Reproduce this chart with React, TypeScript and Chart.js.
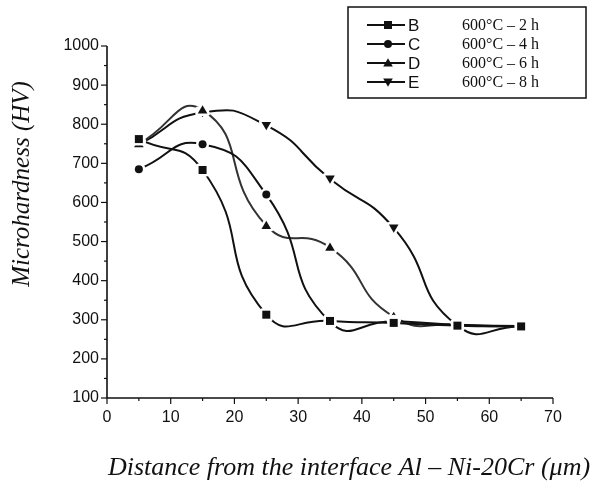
import React, { useEffect, useRef } from "react";
import { Chart, registerables } from "chart.js";

Chart.register(...registerables);

const distances = [5, 15, 25, 35, 45, 55, 65];
const seriesB = [762, 683, 313, 297, 292, 285, 283];
const seriesC = [685, 749, 620, 295, 296, 287, 284];
const seriesD = [750, 836, 541, 485, 308, 287, 283];
const seriesE = [748, 830, 797, 660, 535, 285, 283];
const seriesNames = ["B", "C", "D", "E"];
const seriesLabels = ["600°C – 2 h", "600°C – 4 h", "600°C – 6 h", "600°C – 8 h"];
const xTicks = [0, 10, 20, 30, 40, 50, 60, 70];
const yTicks = [100, 200, 300, 400, 500, 600, 700, 800, 900, 1000];

const markerStyles = ["rect", "circle", "triangle", "triangleDown"];

function markerPath(ctx: CanvasRenderingContext2D, style: string, x: number, y: number, r: number) {
  ctx.beginPath();
  if (style === "rect") {
    ctx.rect(x - r, y - r, 2 * r, 2 * r);
  } else if (style === "circle") {
    ctx.arc(x, y, r, 0, Math.PI * 2);
  } else {
    const s = style === "triangleDown" ? -1 : 1;
    ctx.moveTo(x, y - s * r * 1.2);
    ctx.lineTo(x + r * 1.2, y + s * r * 0.85);
    ctx.lineTo(x - r * 1.2, y + s * r * 0.85);
    ctx.closePath();
  }
}

function drawMarker(ctx: CanvasRenderingContext2D, style: string, x: number, y: number, r: number, ring: number) {
  ctx.save();
  if (ring > 0) {
    markerPath(ctx, style, x, y, r);
    ctx.strokeStyle = "#ffffff";
    ctx.lineWidth = ring * 2;
    ctx.lineJoin = "round";
    ctx.stroke();
  }
  markerPath(ctx, style, x, y, r);
  ctx.fillStyle = "#111";
  ctx.fill();
  ctx.restore();
}

const markerPlugin = {
  id: "markers",
  afterDatasetsDraw(chart: any) {
    const ctx: CanvasRenderingContext2D = chart.ctx;
    for (let i = chart.data.datasets.length - 1; i >= 0; i--) {
      const meta = chart.getDatasetMeta(i);
      meta.data.forEach((pt: any) => {
        drawMarker(ctx, markerStyles[i], pt.x, pt.y, 4, 2.5);
      });
    }
  },
};

const decorPlugin = {
  id: "decor",
  afterDraw(chart: any) {
    const ctx: CanvasRenderingContext2D = chart.ctx;
    const xs = chart.scales.x;
    const ys = chart.scales.y;
    const { left, bottom, right, top } = chart.chartArea;
    ctx.save();
    ctx.strokeStyle = "#111";
    ctx.lineWidth = 1.6;
    ctx.beginPath();
    ctx.moveTo(left, top);
    ctx.lineTo(left, bottom);
    ctx.lineTo(right, bottom);
    ctx.stroke();
    ctx.lineWidth = 1.2;
    for (let v = 100; v <= 1000; v += 50) {
      const py = ys.getPixelForValue(v);
      const len = v % 100 === 0 ? 6 : 3;
      ctx.beginPath();
      ctx.moveTo(left - len, py);
      ctx.lineTo(left, py);
      ctx.stroke();
    }
    for (let v = 0; v <= 70; v += 5) {
      const px = xs.getPixelForValue(v);
      const len = v % 10 === 0 ? 6 : 3;
      ctx.beginPath();
      ctx.moveTo(px, bottom);
      ctx.lineTo(px, bottom + len);
      ctx.stroke();
    }
    ctx.fillStyle = "#111";
    ctx.textAlign = "center";
    ctx.textBaseline = "middle";
    ctx.font = "italic 26px 'Liberation Serif', serif";
    ctx.fillText("Distance from the interface Al – Ni-20Cr (μm)", 349, 468);
    ctx.save();
    ctx.translate(22, 184);
    ctx.rotate(-Math.PI / 2);
    ctx.font = "italic 25px 'Liberation Serif', serif";
    ctx.fillText("Microhardness (HV)", 0, 0);
    ctx.restore();
    ctx.lineWidth = 1.5;
    ctx.strokeRect(348, 7, 238, 91);
    const rows = [25, 44, 63, 82];
    rows.forEach((ry, i) => {
      ctx.strokeStyle = "#111";
      ctx.lineWidth = 2;
      ctx.beginPath();
      ctx.moveTo(367, ry);
      ctx.lineTo(405, ry);
      ctx.stroke();
      drawMarker(ctx, markerStyles[i], 388, ry, 4, 0);
      ctx.fillStyle = "#111";
      ctx.textAlign = "left";
      ctx.font = "17px 'Liberation Sans', Arial, sans-serif";
      ctx.fillText(seriesNames[i], 408, ry + 1);
      ctx.font = "16px 'Liberation Serif', serif";
      ctx.fillText(seriesLabels[i], 462, ry + 1);
    });
    ctx.restore();
  },
};

export default function App() {
  const ref = useRef<HTMLCanvasElement | null>(null);
  useEffect(() => {
    document.body.style.margin = "0";
    const all = [seriesB, seriesC, seriesD, seriesE];
    const chart = new Chart(ref.current as HTMLCanvasElement, {
      type: "line",
      data: {
        labels: distances,
        datasets: all.map((vals, i) => ({
          label: seriesNames[i],
          data: distances.map((d, j) => ({ x: d, y: vals[j] })),
          borderColor: i === 2 ? "#333" : "#111",
          borderWidth: 2,
          tension: 0.55,
          pointRadius: 0,
          fill: false,
        })),
      },
      options: {
        animation: false,
        responsive: false,
        devicePixelRatio: 1,
        layout: { padding: { top: 46, right: 51, left: 0, bottom: 0 } },
        plugins: { legend: { display: false }, tooltip: { enabled: false } },
        scales: {
          x: {
            type: "linear",
            min: 0,
            max: 70,
            afterFit: (s: any) => { s.height = 92; },
            afterBuildTicks: (s: any) => { s.ticks = xTicks.map((v) => ({ value: v })); },
            grid: { display: false, drawTicks: false },
            border: { display: false },
            ticks: {
              padding: 10,
              color: "#111",
              callback: (v: any) => String(v),
              font: { family: "'Liberation Sans', Arial, sans-serif", size: 16 },
            },
          },
          y: {
            type: "linear",
            min: 100,
            max: 1000,
            afterFit: (s: any) => { s.width = 107; },
            afterBuildTicks: (s: any) => { s.ticks = yTicks.map((v) => ({ value: v })); },
            grid: { display: false, drawTicks: false },
            border: { display: false },
            ticks: {
              padding: 8,
              color: "#111",
              callback: (v: any) => String(v),
              font: { family: "'Liberation Sans', Arial, sans-serif", size: 16 },
            },
          },
        },
      },
      plugins: [markerPlugin, decorPlugin],
    });
    return () => chart.destroy();
  }, []);
  return <canvas ref={ref} width={604} height={490} style={{ display: "block" }} />;
}
